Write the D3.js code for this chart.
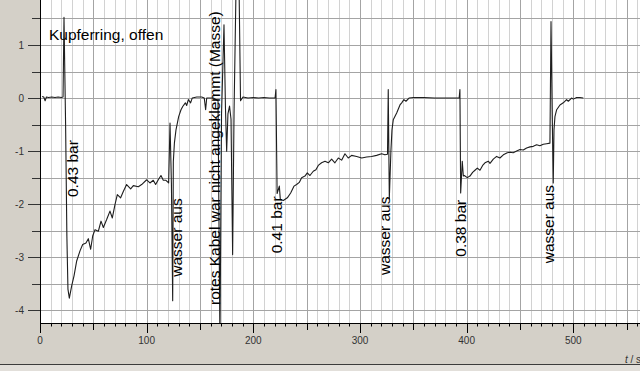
<!DOCTYPE html>
<html><head><meta charset="utf-8">
<script src="https://cdn.jsdelivr.net/npm/d3@7"></script>
<style>
html,body{margin:0;padding:0;background:#d4d0c8;}
svg{display:block;}
</style></head>
<body>
<svg id="chart" width="640" height="371"></svg>
<script>
// time in seconds
const timeS = [2,3.5,4.8,6,8,11,14,17,20,21.6,22.5,24.0,25.2,26.2,27.5,29.7,31.9,34.4,37.5,40,43.1,45.3,47.5,49.4,51.6,54.7,57.2,59.4,62.5,65.6,67.8,70.3,72.5,75.6,78.1,81.2,85,87.5,92.2,95.3,100,103.1,106.2,108.4,110.9,113.4,115.6,118.1,120.6,121.9,123.2,124.4,125.0,126.0,127.5,130,132.2,133.8,136.3,137.5,139.1,141.2,142.7,147,151.6,154,155.3,156.3,159.4,162.5,166.9,168.7,170.2,172.5,173.9,175,176.2,177.7,179.1,180.6,181.9,184.2,186.3,188,190.3,195,200,205,210,215,220.4,221.2,222.3,224.4,225.3,228.1,231.9,235,238.1,240.6,243.1,245.3,248.4,250.6,253.1,256.2,258.7,260.9,264,267.2,270.3,273.4,276.5,279.7,282.8,285.9,289,292.2,296.9,301.6,306.2,310.9,315.6,320.3,323.4,325.8,326.5,327.5,329.0,330.0,331.2,334.4,337.5,339.1,341.2,343.1,346,350,360,370,380,388,393.0,393.7,394.4,395.9,396.9,397.8,400.6,403.1,405.6,407.8,410,412.5,415,417.2,420.3,421.9,425,428.1,431.2,434.4,438.1,440.6,443.7,446.9,450,453.1,456.2,459.4,462.5,465.6,468.7,471.9,475,478.1,479.1,480.3,481.2,481.9,482.8,484.4,487.5,490.6,493.7,495.3,498.4,500,503.1,506.2,509.4];
// measured value (V)
const voltage = [0.03,0.02,-0.05,0.02,0.01,0.02,0.01,0.02,0.01,0.02,1.52,-0.5,-2.6,-3.6,-3.77,-3.54,-3.35,-3.07,-2.88,-2.76,-2.73,-2.65,-2.85,-2.6,-2.48,-2.51,-2.32,-2.44,-2.29,-2.13,-2.26,-2.01,-1.82,-1.88,-1.76,-1.63,-1.71,-1.65,-1.67,-1.63,-1.54,-1.6,-1.55,-1.63,-1.54,-1.46,-1.55,-1.55,-1.6,-0.47,-1.6,-3.82,-1.2,-0.85,-0.6,-0.35,-0.22,-0.16,-0.09,-0.14,-0.03,-0.09,0.0,0.02,0.02,0.0,-0.22,0.0,0.0,0.0,-0.05,-4.6,-0.3,1.38,-0.2,-1.0,-0.3,-0.15,-0.4,-2.95,-0.3,2.6,2.6,-0.05,0.02,0.0,0.01,0.0,0.01,0.0,0.0,0.16,-1.8,-1.66,-1.91,-1.93,-1.88,-1.79,-1.66,-1.63,-1.59,-1.5,-1.47,-1.41,-1.46,-1.38,-1.35,-1.27,-1.22,-1.19,-1.22,-1.15,-1.22,-1.13,-1.17,-1.05,-1.13,-1.08,-1.1,-1.13,-1.11,-1.1,-1.08,-1.05,-1.07,-1.06,0.16,-1.9,-1.0,-0.6,-0.41,-0.28,-0.13,-0.09,-0.03,-0.06,0.0,0.01,0.01,0.0,0.0,0.0,0.0,0.16,-1.79,-1.19,-1.47,-1.46,-1.5,-1.47,-1.4,-1.36,-1.32,-1.36,-1.27,-1.22,-1.19,-1.23,-1.15,-1.1,-1.13,-1.07,-1.03,-1.02,-1.03,-1.0,-0.97,-0.98,-0.94,-0.92,-0.91,-0.88,-0.9,-0.87,-0.86,-0.85,1.44,-0.4,-1.6,-0.6,-0.35,-0.22,-0.13,-0.09,-0.03,-0.06,0.0,-0.02,0.01,0.01,0.0];

const xTickLabels = [0,100,200,300,400,500];
const yTickLabels = [-4,-3,-2,-1,0,1];

// annotations: text, anchor time, anchor value (rotated labels read bottom-to-top)
const noteTexts = ["0.43 bar","wasser aus","rotes Kabel war nicht angeklemmt (Masse)","0.41 bar","wasser aus","0.38 bar","wasser aus"];
const noteTimes = [35.6,133.6,169.2,226.6,328.1,399.4,482.3];
const noteValues = [-1.865,-3.367,-3.90,-2.926,-3.335,-2.99,-3.114];
const titleText = "Kupferring, offen";
const titleTime = 8.4, titleValue = 1.095;

const svg = d3.select("#chart");
const W = 640, H = 371;
const plotLeft = 40, plotBottom = 323;

const x = d3.scaleLinear().domain([0,500]).range([40,573.3]);
const y = d3.scaleLinear().domain([-4,1]).range([310.3,45.0]);

// background
svg.append("rect").attr("x",0).attr("y",0).attr("width",W).attr("height",H).attr("fill","#d4d0c8");
svg.append("rect").attr("x",0).attr("y",365).attr("width",W).attr("height",6).attr("fill","#e2dfda");
svg.append("line").attr("x1",0).attr("x2",W).attr("y1",364.5).attr("y2",364.5).attr("stroke","#3c3c3c").attr("stroke-width",1);

svg.append("rect").attr("x",plotLeft).attr("y",0).attr("width",W-plotLeft).attr("height",plotBottom).attr("fill","#fff");

svg.append("defs").append("clipPath").attr("id","clip")
  .append("rect").attr("x",plotLeft).attr("y",0).attr("width",W-plotLeft).attr("height",plotBottom);

const grid = svg.append("g").attr("clip-path","url(#clip)");
const xMax = x.invert(W+5);
// minor vertical grid (every 10)
d3.range(10, xMax, 10).filter(v => v % 50 !== 0).forEach(v => {
  grid.append("line").attr("x1",Math.round(x(v))+0.5).attr("x2",Math.round(x(v))+0.5)
    .attr("y1",0).attr("y2",plotBottom).attr("stroke","#d2d2d2").attr("stroke-width",1);
});
// horizontal grid (every 0.5)
d3.range(-4,2,0.5).forEach(v => {
  grid.append("line").attr("x1",plotLeft).attr("x2",W)
    .attr("y1",Math.round(y(v))+0.5).attr("y2",Math.round(y(v))+0.5)
    .attr("stroke","#a4a4a4").attr("stroke-width",1);
});
// major vertical grid (every 50)
d3.range(50, xMax, 50).forEach(v => {
  grid.append("line").attr("x1",Math.round(x(v))+0.5).attr("x2",Math.round(x(v))+0.5)
    .attr("y1",0).attr("y2",plotBottom).attr("stroke","#a4a4a4").attr("stroke-width",1);
});

// data line
const pts = timeS.map((t,i) => ({t, v: voltage[i]}));
const line = d3.line().x(d => x(d.t)).y(d => y(d.v));
svg.append("g").attr("clip-path","url(#clip)")
  .append("path").datum(pts).attr("d",line)
  .attr("fill","none").attr("stroke","#1e1e1e").attr("stroke-width",1.1).attr("stroke-linejoin","round");

// axes
const ax = svg.append("g");
ax.append("line").attr("x1",plotLeft).attr("x2",W).attr("y1",plotBottom+0.5).attr("y2",plotBottom+0.5).attr("stroke","#000");
ax.append("line").attr("x1",plotLeft+0.5).attr("x2",plotLeft+0.5).attr("y1",0).attr("y2",plotBottom+10).attr("stroke","#000");
d3.range(10, xMax, 10).forEach(v => {
  const len = v % 100 === 0 ? 10 : (v % 50 === 0 ? 7 : 3.5);
  ax.append("line").attr("x1",Math.round(x(v))+0.5).attr("x2",Math.round(x(v))+0.5)
    .attr("y1",plotBottom).attr("y2",plotBottom+len).attr("stroke","#000");
});
d3.range(-4,2,0.5).forEach(v => {
  const len = Number.isInteger(v) ? 12 : 8;
  ax.append("line").attr("x1",plotLeft-len).attr("x2",plotLeft)
    .attr("y1",Math.round(y(v))+0.5).attr("y2",Math.round(y(v))+0.5).attr("stroke","#333");
});
ax.selectAll("text.xl").data(xTickLabels).join("text").attr("class","xl")
  .attr("x",d => x(d)).attr("y",343.5).attr("text-anchor","middle")
  .attr("font-family","Liberation Sans, Arial, sans-serif").attr("font-size",10).attr("fill","#333")
  .text(d => d);
ax.selectAll("text.yl").data(yTickLabels).join("text").attr("class","yl")
  .attr("x",24).attr("y",d => y(d)).attr("dy","0.36em").attr("text-anchor","end")
  .attr("font-family","Liberation Sans, Arial, sans-serif").attr("font-size",10).attr("fill","#333")
  .text(d => d);
const xt = ax.append("text").attr("x",625).attr("y",363)
  .attr("font-family","Liberation Sans, Arial, sans-serif").attr("font-size",10).attr("fill","#333");
xt.append("tspan").attr("font-style","italic").text("t");
xt.append("tspan").text(" / s");

// annotations
const ann = svg.append("g").attr("font-family","Liberation Sans, Arial, sans-serif").attr("font-size",15.5).attr("fill","#000");
ann.append("text").attr("x",x(titleTime)).attr("y",y(titleValue)).text(titleText);
noteTexts.forEach((txt,i) => {
  const px = x(noteTimes[i]), py = y(noteValues[i]);
  ann.append("text").attr("transform",`translate(${px},${py}) rotate(-90)`).text(txt);
});
</script>
</body></html>
